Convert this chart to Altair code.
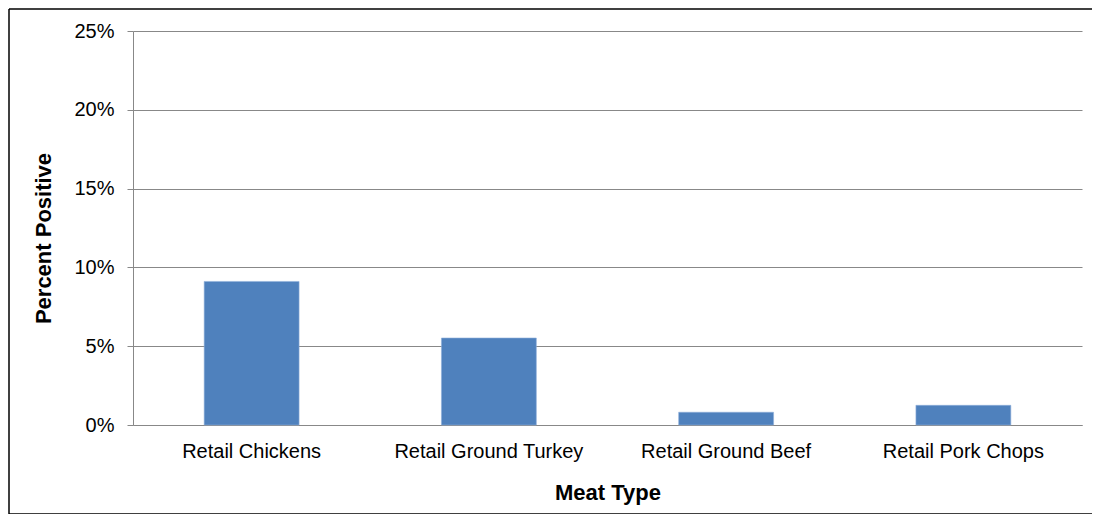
import altair as alt
import pandas as pd

categories = ["Retail Chickens", "Retail Ground Turkey", "Retail Ground Beef", "Retail Pork Chops"]
percent_positive = [0.0911, 0.0552, 0.0081, 0.0125]
y_ticks = [0, 0.05, 0.10, 0.15, 0.20, 0.25]

df = pd.DataFrame({"Meat Type": categories, "Percent Positive": percent_positive})

W, H = 949, 394
FONT = "Liberation Sans"

bars = alt.Chart(df).mark_bar(color="#4F81BD", stroke="#8FAEDA", strokeWidth=0.6).encode(
    x=alt.X(
        "Meat Type:N",
        sort=categories,
        scale=alt.Scale(paddingInner=0.6, paddingOuter=0.3),
        axis=alt.Axis(
            title="Meat Type",
            labelAngle=0,
            ticks=False,
            tickSize=0,
            labelPadding=32,
            labelBaseline="alphabetic",
            labelFontSize=20,
            labelLimit=400,
            labelColor="#000000",
            labelFont=FONT,
            domainColor="#888888",
            domainWidth=1,
            titleFontSize=22,
            titleFont=FONT,
            titleFontWeight="bold",
            titleColor="#000000",
            titleBaseline="alphabetic",
            titleY=74,
            titleX=W / 2,
            titleAlign="center",
            grid=False,
        ),
    ),
    y=alt.Y(
        "Percent Positive:Q",
        scale=alt.Scale(domain=[0, 0.25], nice=False),
        axis=alt.Axis(
            title="Percent Positive",
            values=y_ticks,
            format=".0%",
            tickSize=6,
            tickColor="#888888",
            labelPadding=13,
            labelFontSize=20,
            labelColor="#000000",
            labelFont=FONT,
            domainColor="#888888",
            gridColor="#888888",
            gridWidth=1,
            titleFontSize=22,
            titleFont=FONT,
            titleFontWeight="bold",
            titleColor="#000000",
            titleAngle=-90,
            titleBaseline="alphabetic",
            titleAlign="center",
            titleX=-83,
            titleY=207,
        ),
    ),
)

one = pd.DataFrame({"a": [0]})
frame_style = dict(color="#000000", strokeWidth=1.5)
top_edge = alt.Chart(one).mark_rule(**frame_style).encode(
    x=alt.value(-124), x2=alt.value(1200), y=alt.value(-22)
)
left_edge = alt.Chart(one).mark_rule(**frame_style).encode(
    x=alt.value(-124), y=alt.value(-22), y2=alt.value(483)
)
bottom_edge = alt.Chart(one).mark_rule(**frame_style).encode(
    x=alt.value(-124), x2=alt.value(1200), y=alt.value(483)
)

chart = alt.layer(bars, top_edge, left_edge, bottom_edge).properties(
    width=W,
    height=H,
    padding={"left": 125, "top": 23, "right": 10, "bottom": 89},
    autosize=alt.AutoSizeParams(type="none"),
    background="white",
).configure_view(strokeWidth=0)

chart.save("out.html", embed_options={"renderer": "svg", "actions": False})
